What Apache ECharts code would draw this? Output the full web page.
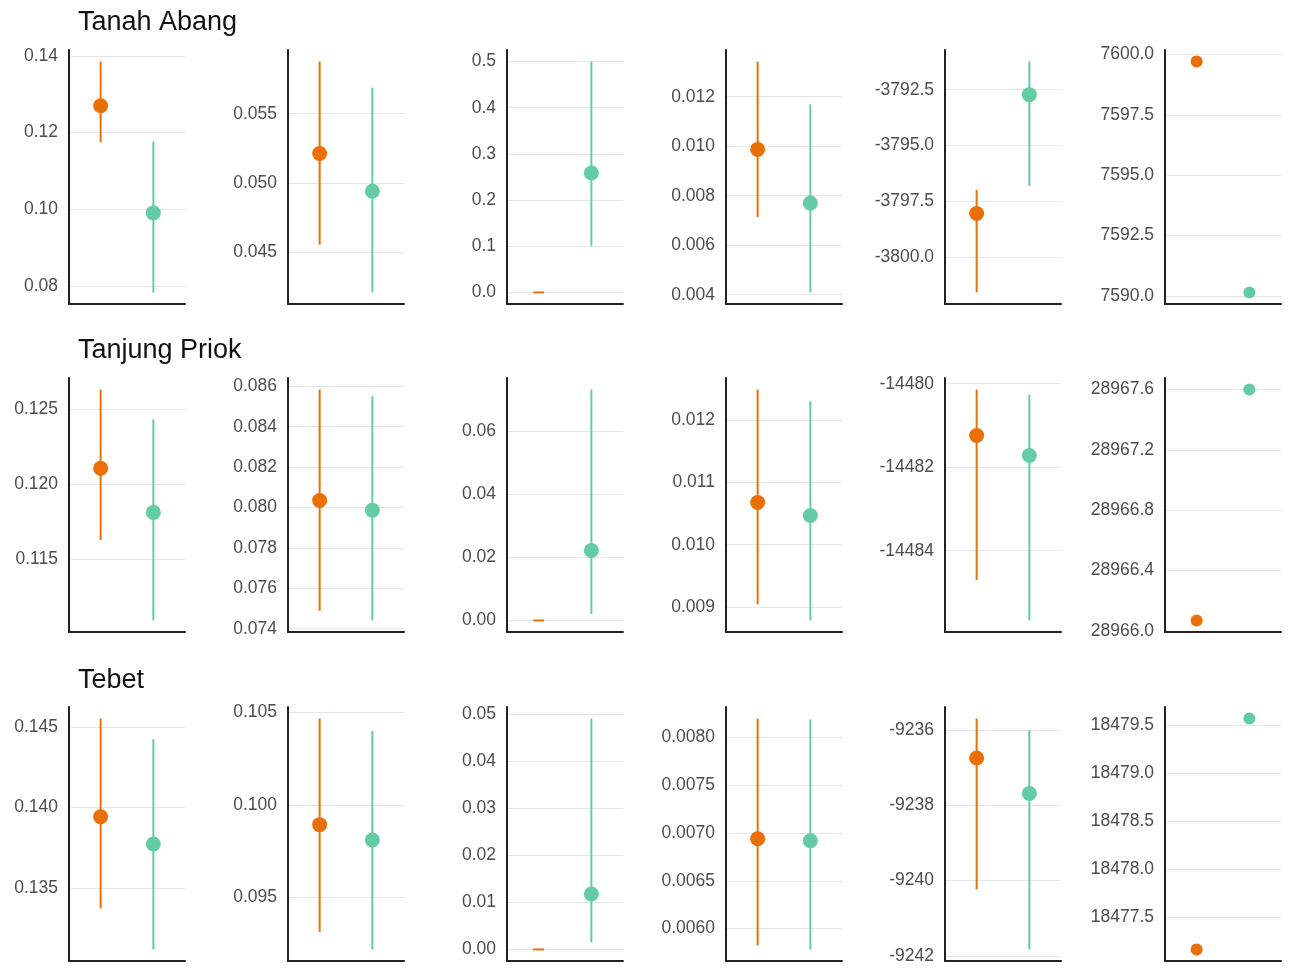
<!DOCTYPE html>
<html>
<head>
<meta charset="utf-8">
<script src="https://cdn.jsdelivr.net/npm/echarts@6/dist/echarts.min.js"></script>
<style>
  html, body { margin: 0; padding: 0; background: #ffffff; }
  #chart { width: 1289px; height: 971px; }
</style>
</head>
<body>
<div id="chart"></div>
<script>
// Facet rows (districts) and the two compared groups
const districts = ['Tanah Abang', 'Tanjung Priok', 'Tebet'];
const groupNames = ['Group 1', 'Group 2'];

// Each entry: [estimate, lower, upper] for one panel (6 panels per district)
const tanahAbangOrange = [
  [0.1270, 0.1175, 0.1385],
  [0.05213, 0.04556, 0.05876],
  [0, 0, 0],
  [0.00987, 0.00714, 0.01342],
  [-3798.04, -3801.57, -3796.98],
  [7599.71, null, null]
];
const tanahAbangTeal = [
  [0.0991, 0.0784, 0.1177],
  [0.04941, 0.04211, 0.05688],
  [0.2586, 0.101, 0.5],
  [0.0077, 0.00409, 0.01169],
  [-3792.72, -3796.80, -3791.24],
  [7590.14, null, null]
];
const tanjungPriokOrange = [
  [0.12106, 0.11628, 0.12631],
  [0.08035, 0.07489, 0.08584],
  [0, 0, 0],
  [0.01068, 0.00904, 0.0125],
  [-14481.24, -14484.70, -14480.14],
  [28966.07, null, null]
];
const tanjungPriokTeal = [
  [0.11812, 0.11092, 0.12432],
  [0.07987, 0.07441, 0.08551],
  [0.0222, 0.0021, 0.0732],
  [0.01047, 0.00878, 0.01231],
  [-14481.72, -14485.67, -14480.26],
  [28967.60, null, null]
];
const tebetOrange = [
  [0.13942, 0.13372, 0.14552],
  [0.09894, 0.09314, 0.10468],
  [0, 0, 0],
  [0.00694, 0.00582, 0.00820],
  [-9236.74, -9240.23, -9235.69],
  [18477.16, null, null]
];
const tebetTeal = [
  [0.13772, 0.13117, 0.14424],
  [0.09811, 0.09219, 0.10401],
  [0.0118, 0.00155, 0.0491],
  [0.00692, 0.00578, 0.00819],
  [-9237.68, -9241.83, -9236.0],
  [18479.57, null, null]
];

// Y tick labels per panel
const tanahAbangTicks = [
  ['0.08', '0.10', '0.12', '0.14'],
  ['0.045', '0.050', '0.055'],
  ['0.0', '0.1', '0.2', '0.3', '0.4', '0.5'],
  ['0.004', '0.006', '0.008', '0.010', '0.012'],
  ['-3800.0', '-3797.5', '-3795.0', '-3792.5'],
  ['7590.0', '7592.5', '7595.0', '7597.5', '7600.0']
];
const tanjungPriokTicks = [
  ['0.115', '0.120', '0.125'],
  ['0.074', '0.076', '0.078', '0.080', '0.082', '0.084', '0.086'],
  ['0.00', '0.02', '0.04', '0.06'],
  ['0.009', '0.010', '0.011', '0.012'],
  ['-14484', '-14482', '-14480'],
  ['28966.0', '28966.4', '28966.8', '28967.2', '28967.6']
];
const tebetTicks = [
  ['0.135', '0.140', '0.145'],
  ['0.095', '0.100', '0.105'],
  ['0.00', '0.01', '0.02', '0.03', '0.04', '0.05'],
  ['0.0060', '0.0065', '0.0070', '0.0075', '0.0080'],
  ['-9242', '-9240', '-9238', '-9236'],
  ['18477.5', '18478.0', '18478.5', '18479.0', '18479.5']
];

const orangeByRow = [tanahAbangOrange, tanjungPriokOrange, tebetOrange];
const tealByRow = [tanahAbangTeal, tanjungPriokTeal, tebetTeal];
const ticksByRow = [tanahAbangTicks, tanjungPriokTicks, tebetTicks];

// Styling and layout
const COLORS = ['#EA6F06', '#63CCA5'];
const FONT = '"Liberation Sans", Arial, sans-serif';
const PANEL_LEFT0 = 69, PANEL_STEP = 219.1, PANEL_W = 116;
const ROW_TOPS = [50, 378, 707];
const PANEL_H = 254;
const TITLE_TOPS = [9, 337, 667];

const chart = echarts.init(document.getElementById('chart'), null, { renderer: 'canvas' });

const grids = [], xAxes = [], yAxes = [], series = [], titles = [];

districts.forEach((name, r) => {
  titles.push({
    text: name,
    left: 78,
    top: TITLE_TOPS[r],
    padding: 0,
    textStyle: { fontFamily: FONT, fontSize: 27, fontWeight: 'normal', color: '#111111' }
  });

  for (let c = 0; c < 6; c++) {
    const idx = grids.length;
    const groups = [orangeByRow[r][c], tealByRow[r][c]];
    const labels = ticksByRow[r][c];
    const tickValues = labels.map(Number);

    // Scale limits: data extent expanded by 5% on each side
    let lo = Infinity, hi = -Infinity;
    groups.forEach(g => g.forEach(v => {
      if (v !== null) { lo = Math.min(lo, v); hi = Math.max(hi, v); }
    }));
    const pad = (hi - lo) * 0.05;

    grids.push({
      left: Math.round(PANEL_LEFT0 + PANEL_STEP * c),
      top: ROW_TOPS[r],
      width: PANEL_W,
      height: PANEL_H,
      containLabel: false
    });

    xAxes.push({
      type: 'value',
      gridIndex: idx,
      min: 0.4,
      max: 2.6,
      axisLine: { show: true, onZero: false, lineStyle: { color: '#222222', width: 2 } },
      axisTick: { show: false },
      axisLabel: { show: false },
      splitLine: { show: false }
    });

    yAxes.push({
      type: 'value',
      gridIndex: idx,
      min: lo - pad,
      max: hi + pad,
      axisLine: { show: true, onZero: false, lineStyle: { color: '#222222', width: 2 } },
      axisTick: { show: false, customValues: tickValues },
      axisLabel: {
        customValues: tickValues,
        margin: 11,
        fontFamily: FONT,
        fontSize: 17.5,
        color: '#4d4d4d',
        formatter: v => {
          let best = 0;
          tickValues.forEach((t, i) => {
            if (Math.abs(t - v) < Math.abs(tickValues[best] - v)) best = i;
          });
          return labels[best];
        }
      },
      splitLine: { show: true, lineStyle: { color: '#e6e6e6', width: 1 } }
    });

    // Interval lines
    const barData = [];
    groups.forEach((g, k) => {
      if (g[1] !== null && g[2] !== null && g[2] > g[1]) {
        barData.push({ value: [k + 1, g[1], g[2]], itemStyle: { color: COLORS[k] } });
      }
    });
    series.push({
      type: 'custom',
      name: 'interval',
      coordinateSystem: 'cartesian2d',
      xAxisIndex: idx,
      yAxisIndex: idx,
      clip: false,
      silent: true,
      encode: { x: 0, y: [1, 2] },
      renderItem: (params, api) => {
        const x = api.value(0);
        const p1 = api.coord([x, api.value(1)]);
        const p2 = api.coord([x, api.value(2)]);
        return {
          type: 'line',
          shape: { x1: p1[0], y1: p1[1], x2: p2[0], y2: p2[1] },
          style: { stroke: api.visual('color'), lineWidth: 2 }
        };
      },
      data: barData,
      z: 2
    });

    // Estimates
    const pointData = groups.map((g, k) => {
      const noInterval = g[1] === null || g[2] === null;
      const flat = !noInterval && g[1] === g[2];
      return {
        name: groupNames[k],
        value: [k + 1, g[0]],
        symbol: flat ? 'rect' : 'circle',
        symbolSize: flat ? [11, 2] : (noInterval ? 12 : 15),
        itemStyle: { color: COLORS[k], opacity: 1 }
      };
    });
    series.push({
      type: 'scatter',
      name: 'estimate',
      xAxisIndex: idx,
      yAxisIndex: idx,
      clip: false,
      silent: true,
      data: pointData,
      z: 3
    });
  }
});

chart.setOption({
  animation: false,
  backgroundColor: '#ffffff',
  title: titles,
  grid: grids,
  xAxis: xAxes,
  yAxis: yAxes,
  series: series
});
</script>
</body>
</html>
